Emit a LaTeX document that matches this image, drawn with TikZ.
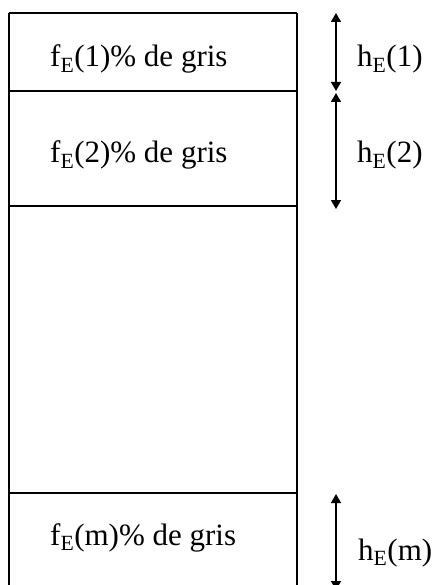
\documentclass[tikz,border=0pt]{standalone}
\usepackage{fontspec}
\setmainfont{Liberation Serif}
\usetikzlibrary{arrows.meta}

\newcommand{\fsub}[1]{f\textsubscript{E}(#1)\% de gris}
\newcommand{\hsub}[1]{h\textsubscript{E}(#1)}

\tikzset{
    cell/.style={line width=1.4pt},
    label/.style={anchor=base west, inner sep=0pt, font=\fontsize{31}{34}\selectfont},
    dim/.style={line width=1.5pt, {Triangle[width=10pt,length=9pt]}-{Triangle[width=10pt,length=9pt]}}
}

\begin{document}
\begin{tikzpicture}[x=1pt,y=-1pt]
    \useasboundingbox (0,0) rectangle (434,585);
    \clip (0,0) rectangle (434,585);

    \draw[cell] (9,13) -- (297,13);
    \draw[cell] (9,91) -- (297,91);
    \draw[cell] (9,206) -- (297,206);
    \draw[cell] (9,493) -- (297,493);
    \draw[cell] (9,13) -- (9,600);
    \draw[cell] (297,13) -- (297,600);

    \node[label] (f1) at (50,67) {\fsub{1}};
    \node[label] (f2) at (50,163) {\fsub{2}};
    \node[label] (fm) at (50,545) {\fsub{m}};

    \coordinate (a1) at (336,13);
    \coordinate (b1) at (336,91);
    \coordinate (a2) at (336,93);
    \coordinate (b2) at (336,209);
    \coordinate (am) at (336,494);
    \coordinate (bm) at (336,590);

    \draw[dim] (a1) -- (b1);
    \draw[dim] (a2) -- (b2);
    \draw[dim] (am) -- (bm);

    \node[label] (h1) at (357,67) {\hsub{1}};
    \node[label] (h2) at (357,163) {\hsub{2}};
    \node[label] (hm) at (358,560) {\hsub{m}};
\end{tikzpicture}
\end{document}
